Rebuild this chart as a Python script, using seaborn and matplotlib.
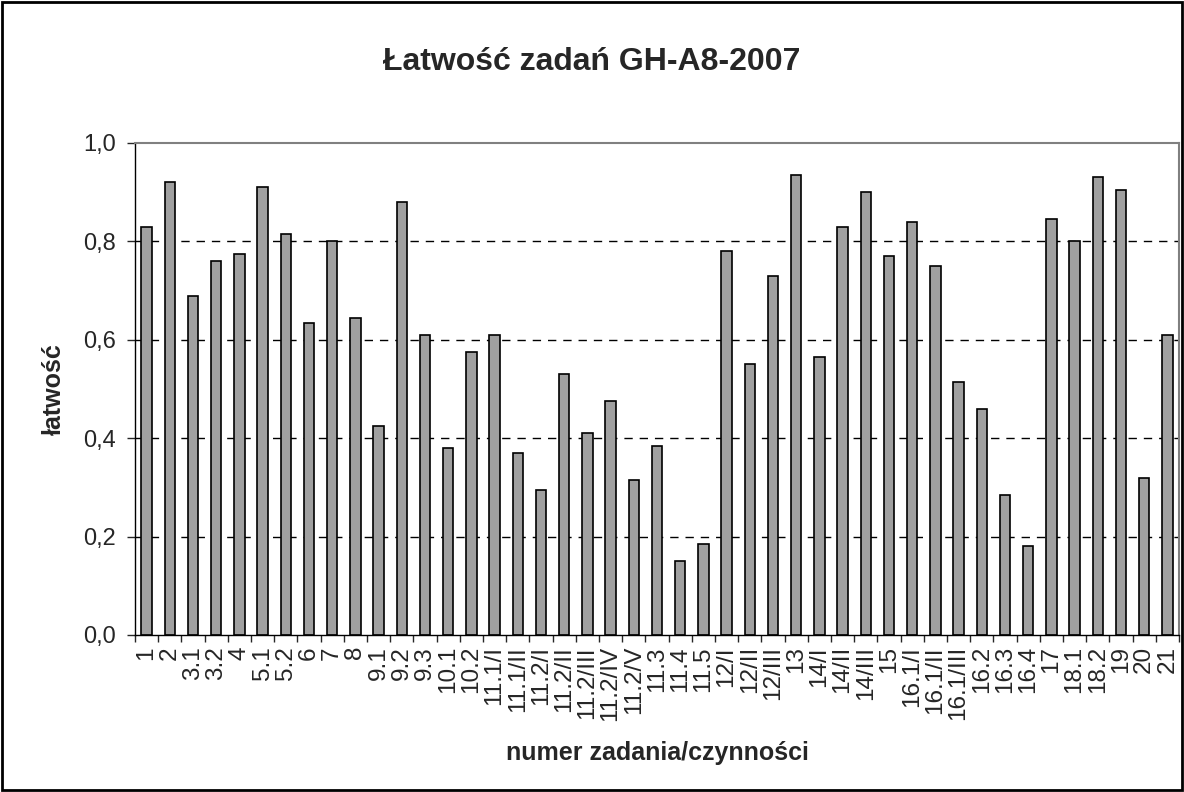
import numpy as np
import pandas as pd
import matplotlib
matplotlib.use("Agg")
import matplotlib.pyplot as plt
import seaborn as sns
from matplotlib.patches import Rectangle
from matplotlib.ticker import FixedLocator, FuncFormatter

# task labels and ease values
zadania = ['1', '2', '3.1', '3.2', '4', '5.1', '5.2', '6', '7', '8',
           '9.1', '9.2', '9.3', '10.1', '10.2', '11.1/I', '11.1/II',
           '11.2/I', '11.2/II', '11.2/III', '11.2/IV', '11.2/V', '11.3',
           '11.4', '11.5', '12/I', '12/II', '12/III', '13', '14/I', '14/II',
           '14/III', '15', '16.1/I', '16.1/II', '16.1/III', '16.2', '16.3',
           '16.4', '17', '18.1', '18.2', '19', '20', '21']
latwosc = [0.83, 0.92, 0.69, 0.76, 0.775, 0.91, 0.815, 0.635, 0.80, 0.645,
           0.425, 0.88, 0.61, 0.38, 0.575, 0.61, 0.37,
           0.295, 0.53, 0.41, 0.475, 0.315, 0.385,
           0.15, 0.185, 0.78, 0.55, 0.73, 0.935, 0.565, 0.83,
           0.90, 0.77, 0.84, 0.75, 0.515, 0.46, 0.285,
           0.18, 0.845, 0.80, 0.93, 0.905, 0.32, 0.61]

df = pd.DataFrame({'zadanie': zadania, 'latwosc': latwosc})

sns.set_style("white")
plt.rcParams['font.family'] = ['Liberation Sans', 'DejaVu Sans']

W, H = 1184, 792
fig = plt.figure(figsize=(W / 100, H / 100), dpi=100)
ax = fig.add_axes([135 / W, 1 - 635 / H, (1179 - 135) / W, (635 - 143) / H])

sns.barplot(data=df, x='zadanie', y='latwosc', color='#a0a0a0',
            edgecolor='black', linewidth=1.2, width=0.44, saturation=1, ax=ax)

ax.set_ylim(0, 1.0)
ax.set_xlim(-0.5, len(zadania) - 0.5)
ax.set_yticks(np.arange(0, 1.01, 0.2))
ax.yaxis.set_major_formatter(FuncFormatter(lambda v, p: f"{v:.1f}".replace('.', ',')))
ax.tick_params(axis='y', labelsize=17, length=6, width=1, direction='out', left=True, pad=8)

# x ticks sit between categories
ax.tick_params(axis='x', which='major', length=0, labelsize=17.5, rotation=90, pad=8)
ax.xaxis.set_minor_locator(FixedLocator(np.arange(-0.5, len(zadania), 1.0)))
ax.tick_params(axis='x', which='minor', length=5, width=1, direction='out', bottom=True)

for y in [0.2, 0.4, 0.6, 0.8]:
    ax.axhline(y, color='black', linestyle=(0, (6, 5)), linewidth=1, zorder=0)

for s in ['left', 'bottom']:
    ax.spines[s].set_color('black')
    ax.spines[s].set_linewidth(1)
for s in ['top', 'right']:
    ax.spines[s].set_color('#808080')
    ax.spines[s].set_linewidth(1.5)

ax.set_xlabel('numer zadania/czynności', fontsize=18, fontweight='bold', labelpad=14)
ax.set_ylabel('łatwość', fontsize=18, fontweight='bold', labelpad=12)
fig.text(0.5, 1 - 62 / H, 'Łatwość zadań GH-A8-2007', ha='center', va='center',
         fontsize=23, fontweight='bold')

fig.patches.append(Rectangle((2 / W, 2 / H), 1 - 4 / W, 1 - 4 / H,
                             transform=fig.transFigure, fill=False,
                             edgecolor='black', linewidth=2))

fig.savefig('out.png', dpi=100)
